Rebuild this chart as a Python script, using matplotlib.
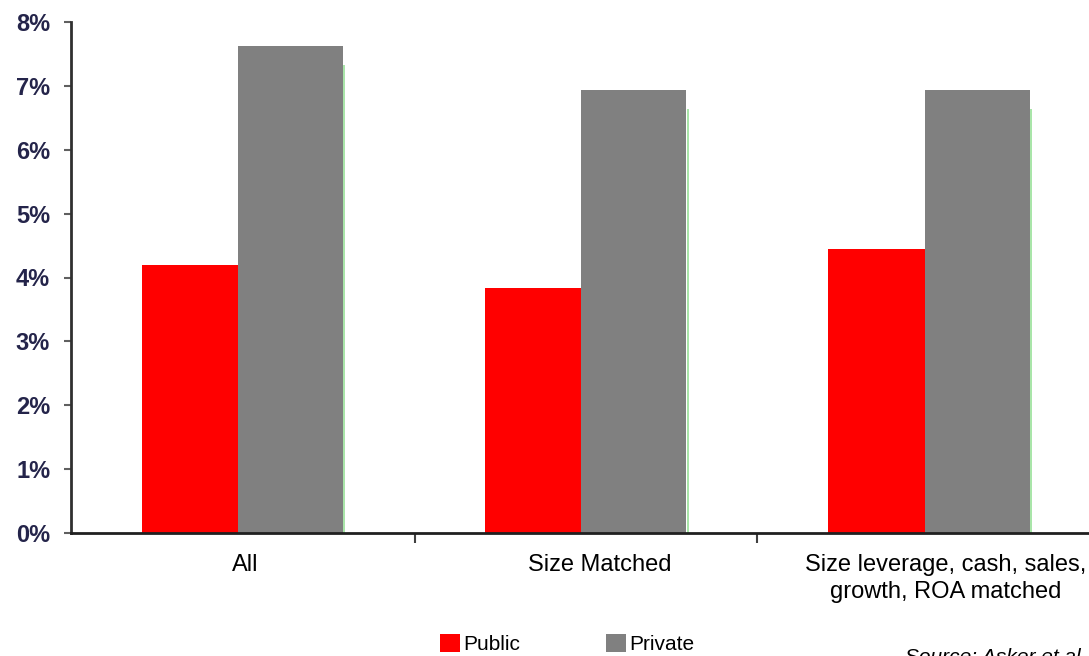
import numpy as np
import matplotlib.pyplot as plt
import matplotlib.transforms as mtransforms
from matplotlib.ticker import FixedLocator, PercentFormatter

categories = ['All', 'Size Matched', 'Size leverage, cash, sales,\ngrowth, ROA matched']
public = [4.20, 3.83, 4.45]
private = [7.63, 6.94, 6.94]
y_ticks = [0, 1, 2, 3, 4, 5, 6, 7, 8]

plt.rcParams['font.family'] = ['Liberation Sans', 'DejaVu Sans']

fig = plt.figure(figsize=(10.89, 6.56), dpi=100)
# axes runs off the right edge of the figure
ax = fig.add_axes([71 / 1089, 123 / 656, 1030 / 1089, 511 / 656])

x = np.arange(len(categories))
w_pub, w_priv = 0.28, 0.306
bars_pub = ax.bar(x, public, width=w_pub, align='edge', color='#ff0000', label='Public', zorder=2)
bars_priv = ax.bar(x, private, width=w_priv, align='edge', color='#808080', label='Private', zorder=2)
# shift public bars to the left of the category centre
for b in bars_pub:
    b.set_x(b.get_x() - w_pub)

# faint green edge on the right side of the grey bars
ax.vlines(x + w_priv + 0.004, 0, np.array(private) - 0.3, color='#98e098', lw=1.2, zorder=1)

ax.set_xlim(-0.486, 2.514)
ax.set_ylim(0, 8)
ax.yaxis.set_major_locator(FixedLocator(y_ticks))
ax.yaxis.set_major_formatter(PercentFormatter(decimals=0))

ax.set_xticks(x)
ax.set_xticklabels(categories, fontsize=17, linespacing=1.3)
ax.xaxis.set_minor_locator(FixedLocator([0.517, 1.512]))
ax.tick_params(axis='x', which='major', length=0, pad=15)
ax.tick_params(axis='x', which='minor', length=7, width=1.5, color='#404040')
ax.tick_params(axis='y', length=5, width=1.5, color='#606060', labelsize=17,
               labelcolor='#24244a', pad=10)
for lab in ax.get_yticklabels():
    lab.set_fontweight('bold')

# category labels sit a little right of the bar pairs
label_shift_px = [7, 19, 21]
for lab, dx in zip(ax.get_xticklabels(), label_shift_px):
    lab.set_transform(lab.get_transform() +
                      mtransforms.ScaledTranslation(dx / 100, 0, fig.dpi_scale_trans))

for side in ['top', 'right']:
    ax.spines[side].set_visible(False)
ax.spines['left'].set_color('#303030')
ax.spines['left'].set_linewidth(2)
ax.spines['bottom'].set_color('#202020')
ax.spines['bottom'].set_linewidth(2)

fig.legend(handles=[bars_pub, bars_priv], labels=['Public', 'Private'],
           loc='lower left', bbox_to_anchor=(440 / 1089, 2 / 656), ncol=2,
           frameon=False, fontsize=15, handlelength=0.95, handleheight=0.95,
           handletextpad=0.15, columnspacing=4.15, borderpad=0, borderaxespad=0)

fig.text(905 / 1089, 8 / 656, 'Source: Asker et al.', fontsize=15,
         style='italic', va='top', ha='left')

fig.savefig('out.png', dpi=100)
